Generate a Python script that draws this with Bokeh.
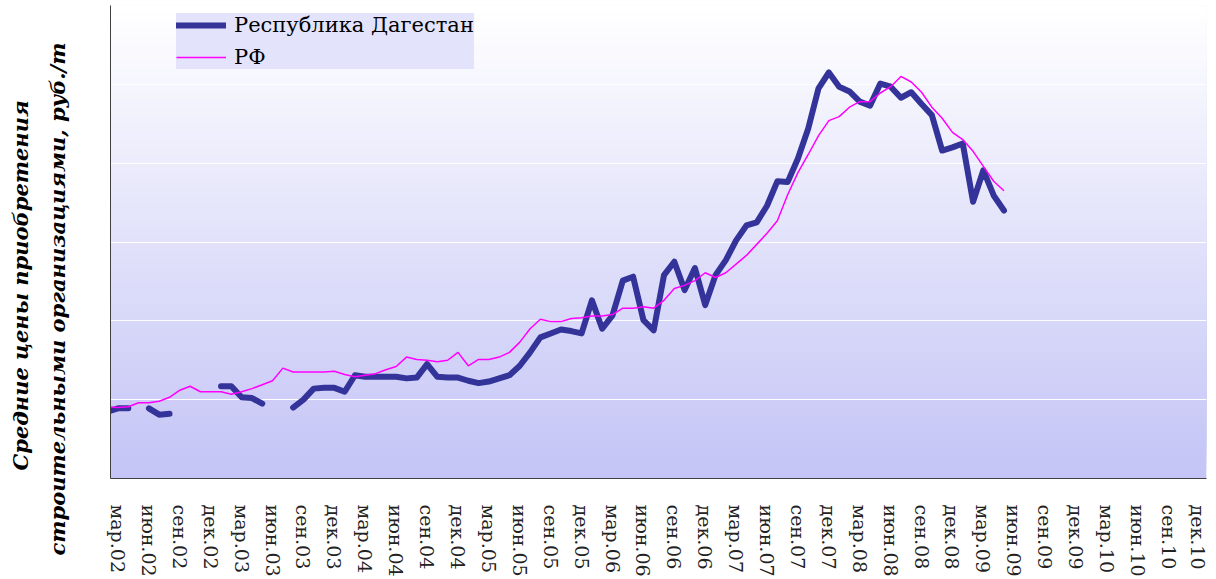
from bokeh.plotting import figure
from bokeh.models import (FixedTicker, Range1d, Title, BoxAnnotation, Legend,
                          LegendItem, ColumnDataSource)
from bokeh.embed import file_html
from bokeh.resources import INLINE

nan = float("nan")

# month index: 0 = январь 2002; data run from февраль 2002 (1) to май 2009 (88)
months = list(range(1, 89))

dagestan = [850, 890, 890, nan, 890, 810, 820, nan, nan, nan,
            nan, 1170, 1170, 1030, 1020, 950, nan, nan, 900, 1000,
            1140, 1150, 1150, 1100, 1310, 1290, 1290, 1290, 1290, 1270,
            1280, 1450, 1290, 1280, 1280, 1240, 1210, 1230, 1270, 1310,
            1430, 1600, 1790, 1840, 1890, 1870, 1840, 2260, 1900, 2070,
            2510, 2560, 2010, 1880, 2580, 2750, 2390, 2670, 2200, 2580,
            2770, 3020, 3210, 3250, 3460, 3770, 3760, 4060, 4440, 4950,
            5150, 4970, 4910, 4780, 4730, 5010, 4970, 4830, 4900, 4750,
            4610, 4160, 4200, 4250, 3510, 3910, 3590, 3400]

rf = [910, 900, 910, 960, 960, 980, 1030, 1120, 1170, 1100,
      1100, 1100, 1070, 1100, 1140, 1190, 1240, 1400, 1350, 1350,
      1350, 1350, 1360, 1320, 1290, 1310, 1330, 1380, 1420, 1540,
      1510, 1500, 1480, 1500, 1600, 1430, 1510, 1510, 1540, 1600,
      1730, 1900, 2020, 1990, 1990, 2030, 2040, 2060, 2060, 2080,
      2160, 2160, 2180, 2160, 2260, 2410, 2450, 2510, 2610, 2550,
      2610, 2720, 2830, 2970, 3110, 3270, 3600, 3880, 4110, 4350,
      4540, 4590, 4710, 4780, 4780, 4890, 4970, 5100, 5030, 4900,
      4710, 4570, 4390, 4300, 4150, 3960, 3770, 3650]

tick_months = [2, 5, 8, 11, 14, 17, 20, 23, 26, 29, 32, 35, 38, 41, 44, 47, 50, 53,
               56, 59, 62, 65, 68, 71, 74, 77, 80, 83, 86, 89, 92, 95, 98, 101, 104, 107]
tick_labels = ["мар.02", "июн.02", "сен.02", "дек.02",
               "мар.03", "июн.03", "сен.03", "дек.03",
               "мар.04", "июн.04", "сен.04", "дек.04",
               "мар.05", "июн.05", "сен.05", "дек.05",
               "мар.06", "июн.06", "сен.06", "дек.06",
               "мар.07", "июн.07", "сен.07", "дек.07",
               "мар.08", "июн.08", "сен.08", "дек.08",
               "мар.09", "июн.09", "сен.09", "дек.09",
               "мар.10", "июн.10", "сен.10", "дек.10"]
grid_values = [1000, 2000, 3000, 4000, 5000]

series_names = ["Республика Дагестан", "РФ"]

Y_MAX = 6000
p = figure(width=1208, height=579, x_range=Range1d(1.27, 107.66),
           y_range=Range1d(0, Y_MAX), output_backend="svg", toolbar_location=None,
           min_border_left=107, min_border_right=2, min_border_top=5,
           min_border_bottom=101)
p.outline_line_color = None
p.background_fill_color = "white"
p.border_fill_color = "white"

# vertical gradient background (white -> lavender); stacked to avoid seams
n_bands = 60
top_c = (255, 255, 255)
bot_c = (196, 196, 246)
for i in range(n_bands):
    y0 = Y_MAX * i / n_bands
    t = (i + 0.5) / n_bands  # 0 at bottom, 1 at top
    c = tuple(int(round(bot_c[k] + (top_c[k] - bot_c[k]) * t)) for k in range(3))
    p.add_layout(BoxAnnotation(bottom=y0, top=Y_MAX, fill_color="#%02x%02x%02x" % c,
                               fill_alpha=1.0, line_color=None, level="image"))

src = ColumnDataSource(dict(m=months, dag=dagestan, rf=rf))
r_dag = p.line("m", "dag", source=src, line_color="#333399", line_width=6,
               line_cap="round", line_join="round")
r_rf = p.line("m", "rf", source=src, line_color="#ff00ff", line_width=1.5)

# axes
p.xgrid.visible = False
p.ygrid.ticker = FixedTicker(ticks=grid_values)
p.ygrid.grid_line_color = "white"
p.ygrid.grid_line_width = 1.2

p.yaxis.ticker = FixedTicker(ticks=[])
p.yaxis.major_tick_line_color = None
p.yaxis.minor_tick_line_color = None
p.yaxis.major_label_text_font_size = "0px"
p.yaxis.axis_line_color = "#404040"
p.yaxis.axis_label = "\u2002"
p.yaxis.axis_label_text_font_size = "10px"
p.yaxis.axis_label_standoff = 22

p.xaxis.ticker = FixedTicker(ticks=tick_months)
p.xaxis.major_label_overrides = {m: lab for m, lab in zip(tick_months, tick_labels)}
p.xaxis.major_label_orientation = "vertical"
p.xaxis.major_tick_line_color = None
p.xaxis.minor_tick_line_color = None
p.xaxis.major_label_standoff = 20
p.xaxis.major_label_text_font = "DejaVu Serif"
p.xaxis.major_label_text_font_size = "19px"
p.xaxis.major_label_text_color = "#222222"
p.xaxis.axis_line_color = "#404040"

# y-axis titles (two lines)
t2 = Title(text="строительными организациями, руб./т", align="left",
           text_font="DejaVu Serif", text_font_style="bold italic",
           text_font_size="21px", text_color="black", offset=-77)
p.add_layout(t2, "left")
t1 = Title(text="Средние цены приобретения", align="left",
           text_font="DejaVu Serif", text_font_style="bold italic",
           text_font_size="21px", text_color="black", offset=8)
p.add_layout(t1, "left")

legend = Legend(items=[LegendItem(label=series_names[0], renderers=[r_dag]),
                       LegendItem(label=series_names[1], renderers=[r_rf])],
                location=(66, 409), orientation="vertical")
legend.background_fill_color = "#e3e3fb"
legend.background_fill_alpha = 1.0
legend.border_line_color = None
legend.label_text_font = "DejaVu Serif"
legend.label_text_font_size = "21px"
legend.label_text_color = "black"
legend.glyph_width = 50
legend.glyph_height = 24
legend.label_height = 24
legend.label_standoff = 8
legend.spacing = 8
legend.padding = 10
legend.margin = 0
p.add_layout(legend, "center")

open("out.html", "w").write(file_html(p, INLINE))
